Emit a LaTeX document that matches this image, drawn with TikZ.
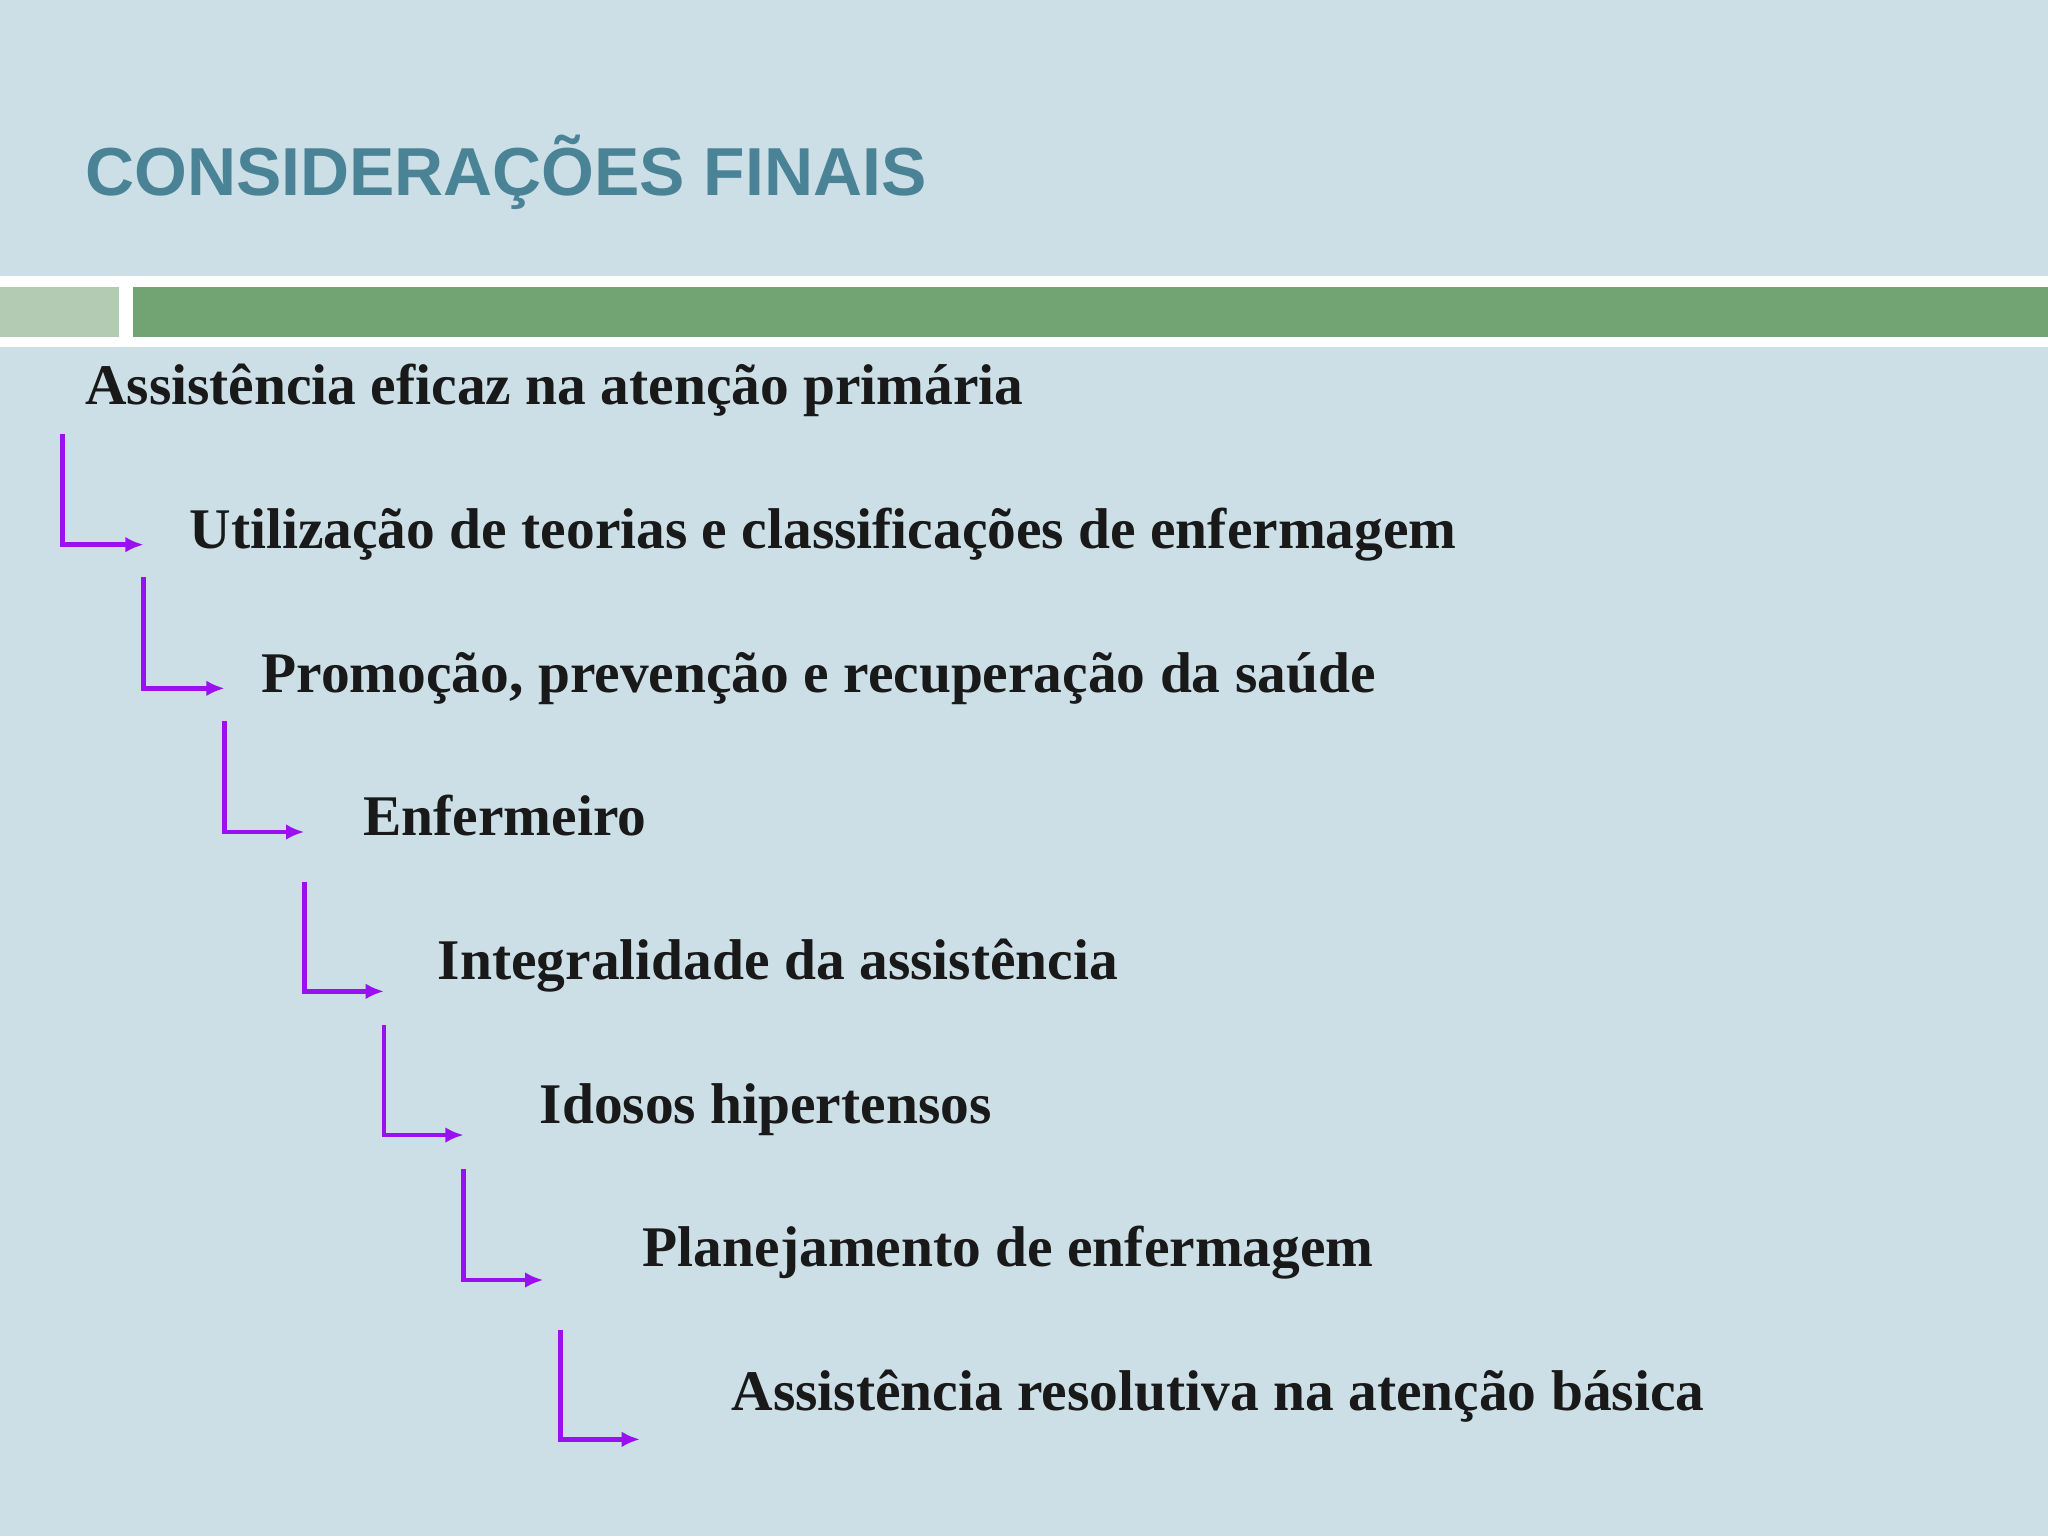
\documentclass[tikz,border=0pt]{standalone}
\usepackage{fontspec}
\setmainfont{Liberation Serif}
\newfontfamily\titlefont{Liberation Sans}
\usetikzlibrary{arrows.meta}
\definecolor{bg}{HTML}{CCDFE6}
\definecolor{titlec}{HTML}{4A8396}
\definecolor{gbar}{HTML}{72A473}
\definecolor{lgbar}{HTML}{B2CBB2}
\definecolor{purp}{HTML}{9A10F0}
\tikzset{item/.style={anchor=base west,inner sep=0pt,font=\fontsize{44}{46}\selectfont\bfseries,text=black!90},
 conn/.style={draw=purp,line width=3.4pt,-{Latex[length=14pt,width=12pt]}}}
\begin{document}
\begin{tikzpicture}[x=1pt,y=-1pt]
\fill[bg] (0,0) rectangle (1568,1176);
\useasboundingbox (0,0) rectangle (1568,1176);
\fill[white] (0,211) rectangle (1568,266);
\fill[lgbar] (0,220) rectangle (91,258);
\fill[gbar] (102,220) rectangle (1568,258);
\node[anchor=base west,inner sep=0pt,text=titlec,font=\titlefont\fontsize{52}{56}\selectfont\bfseries] (title) at (65,150) {CONSIDERAÇÕES FINAIS};
\node[item] (t1) at (65,310) {Assistência eficaz na atenção primária};
\node[item] (t2) at (145,420) {Utilização de teorias e classificações de enfermagem};
\node[item] (t3) at (200,530) {Promoção, prevenção e recuperação da saúde};
\node[item] (t4) at (278,640) {Enfermeiro};
\node[item] (t5) at (335,750) {Integralidade da assistência};
\node[item] (t6) at (413,860) {Idosos hipertensos};
\node[item] (t7) at (492,970) {Planejamento de enfermagem};
\node[item] (t8) at (560,1080) {Assistência resolutiva na atenção básica};
\foreach \x/\ya/\yb/\xe/\n in {48/332/417/110/a,110/442/527/172/b,172/552/637/233/c,233/675/759/294/d,294/785/869/355/e,355/895/980/416/f,429/1018/1102/490/g}{
 \coordinate (s\n) at (\x,\ya); \coordinate (e\n) at (\xe,\yb);
 \draw[conn] (s\n) |- (e\n);
}
\end{tikzpicture}
\end{document}
